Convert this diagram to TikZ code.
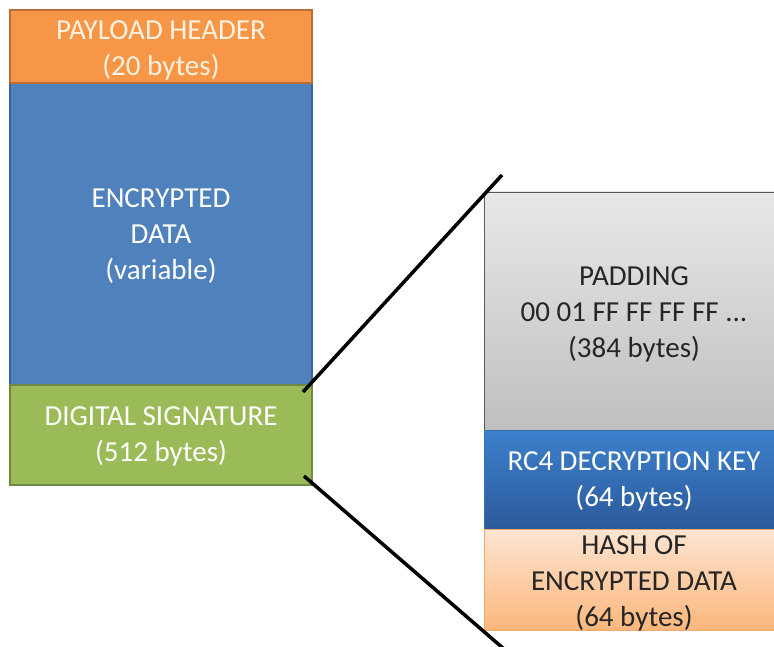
\documentclass[tikz,border=0pt]{standalone}
\usepackage{fontspec}
\setmainfont{Carlito}
\definecolor{hdr}{HTML}{F79646}
\definecolor{hdrb}{HTML}{B86E34}
\definecolor{enc}{HTML}{4F81BD}
\definecolor{encb}{HTML}{3A6597}
\definecolor{sig}{HTML}{9BBB59}
\definecolor{sigb}{HTML}{71893F}
\definecolor{cream}{HTML}{FDF3E3}
\tikzset{
  col/.style={rectangle, inner sep=0pt},
  leftbox/.style={col, minimum width=302pt, line width=1.5pt},
  rightbox/.style={col, minimum width=300pt, line width=0.8pt},
  lbl/.style={inner sep=0pt, align=center, font=\fontsize{29}{36}\selectfont},
  zoomline/.style={line width=3.5pt, black}
}
\begin{document}
\begin{tikzpicture}[x=1pt,y=-1pt]
\useasboundingbox (0,0) rectangle (774,647);
\clip (0,0) rectangle (774,647);
\fill[white] (0,0) rectangle (774,647);
% left column
\node[leftbox, fill=enc, draw=encb, minimum height=302pt] (enc) at (161,234) {};
\node[leftbox, fill=hdr, draw=hdrb, minimum height=73pt] (hdr) at (161,46.5) {};
\node[leftbox, fill=sig, draw=sigb, minimum height=100pt] (sig) at (161,435) {};
\node[lbl, text=white, yshift=-2pt] (enct) at (enc.center) {ENCRYPTED\\DATA\\(variable)};
\node[lbl, text=cream, yshift=-4pt] (hdrt) at (hdr.center) {PAYLOAD HEADER\\(20 bytes)};
\node[lbl, text=white, yshift=-1pt] (sigt) at (sig.center) {DIGITAL SIGNATURE\\(512 bytes)};
% right column
\node[rightbox, top color=black!9, bottom color=black!25, draw=black!65, minimum height=238pt] (pad) at (634,311) {};
\node[rightbox, top color={rgb,255:red,60;green,128;blue,204}, bottom color={rgb,255:red,44;green,90;blue,155}, draw={rgb,255:red,60;green,110;blue,170}, minimum height=99pt] (rc4) at (634,479.5) {};
\node[rightbox, top color={rgb,255:red,253;green,229;blue,210}, bottom color={rgb,255:red,251;green,183;blue,124}, draw={rgb,255:red,240;green,170;blue,110}, minimum height=101pt] (hash) at (634,579.5) {};
\node[lbl, text=black!85, yshift=-3pt] (padt) at (pad.center) {PADDING\\00 01 FF FF FF FF ...\\(384 bytes)};
\node[lbl, text=white, yshift=-2pt] (rc4t) at (rc4.center) {RC4 DECRYPTION KEY\\(64 bytes)};
\node[lbl, text=black!85, yshift=-3.5pt] (hasht) at (hash.center) {HASH OF\\ENCRYPTED DATA\\(64 bytes)};
% zoom lines
\coordinate (t1) at (303,392);
\coordinate (t2) at (502,175);
\coordinate (b1) at (304,476);
\coordinate (b2) at (504,649);
\draw[zoomline] (t1) -- (t2);
\draw[zoomline] (b1) -- (b2);
\end{tikzpicture}
\end{document}
